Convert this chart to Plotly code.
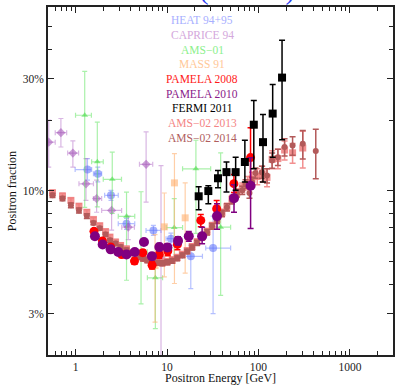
import numpy as np
import plotly.graph_objects as go

# ---------------- data ----------------
# HEAT 94+95
heat_E = [1.35, 1.75, 2.44, 3.61, 7.1, 11.05, 18.2, 31.9]
heat_E_lo = [0.99, 1.57, 2.08, 2.93, 5.9, 9.76, 14.7, 26.5]
heat_E_hi = [1.50, 1.93, 2.93, 4.44, 8.6, 12.5, 24.4, 49.6]
heat_frac = [0.123, 0.118, 0.0956, 0.0724, 0.0678, 0.0625, 0.0526, 0.057]
heat_lo = [0.111, 0.109, 0.091, 0.0685, 0.0646, 0.0586, 0.0383, 0.030]
heat_hi = [0.137, 0.126, 0.1004, 0.0763, 0.0712, 0.066, 0.0586, 0.078]

# CAPRICE 94
caprice_E = [0.509, 0.692, 0.935, 1.30, 1.70, 2.48, 3.77, 5.91, 8.6]
caprice_E_lo = [0.5, 0.60, 0.82, 1.09, 1.57, 1.93, 3.2, 5.0, 8.6]
caprice_E_hi = [0.6, 0.80, 1.08, 1.57, 1.93, 3.19, 4.4, 6.98, 8.6]
caprice_frac = [0.161, 0.1767, 0.1446, 0.107, 0.0926, 0.0825, 0.070, 0.1295, 0.052]
caprice_lo = [0.126, 0.1535, 0.126, 0.091, 0.081, 0.068, 0.062, 0.0895, 0.015]
caprice_hi = [0.200, 0.203, 0.163, 0.137, 0.111, 0.0956, 0.078, 0.178, 0.128]

# AMS-01
ams01_E = [1.26, 1.73, 2.52, 3.61, 5.2, 7.46, 12.0, 20.7, 38.6]
ams01_E_lo = [1.0, 1.5, 2.01, 2.93, 4.44, 6.1, 9.8, 14.8, 30.0]
ams01_E_hi = [1.49, 2.01, 3.18, 4.44, 6.1, 8.95, 14.8, 30.0, 49.6]
ams01_frac = [0.2095, 0.1327, 0.1118, 0.0778, 0.055, 0.0426, 0.0697, 0.124, 0.070]
ams01_lo = [0.085, 0.0853, 0.08, 0.0416, 0.033, 0.0259, 0.0522, 0.0658, 0.0359]
ams01_hi = [0.322, 0.196, 0.146, 0.0987, 0.099, 0.0522, 0.0925, 0.164, 0.145]

# MASS 91
mass_E = [7.4, 9.35, 12.06, 15.8]
mass_frac = [0.048, 0.0702, 0.108, 0.0767]
mass_lo = [0.0276, 0.043, 0.0403, 0.0446]
mass_hi = [0.065, 0.0978, 0.144, 0.108]

# PAMELA 2008
pam08_E = [1.59, 1.97, 2.42, 3.2, 4.41, 5.43, 6.87, 8.24, 10.2, 13.0, 23.4, 34.9, 53.9, 81.9]
pam08_frac = [0.0672, 0.0611, 0.0576, 0.0535, 0.0502, 0.0545, 0.0482, 0.0536, 0.0554,
              0.0591, 0.0748, 0.0839, 0.1072, 0.1384]
pam08_err_lo = [0.0015, 0.0015, 0.0015, 0.0015, 0.0015, 0.0015, 0.0017, 0.002, 0.0025,
                0.003, 0.0045, 0.007, 0.009, 0.033]
pam08_err_hi = [0.0015, 0.0015, 0.0015, 0.0015, 0.0015, 0.0015, 0.0017, 0.002, 0.0025,
                0.003, 0.0045, 0.007, 0.010, 0.047]

# PAMELA 2010
pam10_E = [1.63, 1.98, 2.42, 2.93, 3.61, 4.44, 5.6, 6.84, 8.24, 10.1, 13.2, 17.3, 24.2, 35.2, 54.0, 82.0]
pam10_frac = [0.064, 0.0591, 0.0563, 0.0549, 0.0536, 0.0549, 0.0605, 0.0526, 0.0576,
              0.0574, 0.0612, 0.064, 0.064, 0.078, 0.093, 0.105]
pam10_err_lo = [0.0015, 0.0015, 0.0015, 0.0015, 0.0015, 0.0015, 0.0017, 0.0017, 0.002,
                0.002, 0.0025, 0.003, 0.0045, 0.0095, 0.012, 0.036]
pam10_err_hi = [0.0015, 0.0015, 0.0015, 0.0015, 0.0015, 0.0015, 0.0017, 0.0017, 0.002,
                0.002, 0.0025, 0.003, 0.006, 0.010, 0.013, 0.033]

# FERMI 2011
fermi_E = [22.2, 28.3, 36.1, 44.7, 56.3, 71.0, 88.9, 112, 143, 181]
fermi_frac = [0.0947, 0.0997, 0.113, 0.120, 0.120, 0.1325, 0.191, 0.161, 0.213, 0.303]
fermi_lo = [0.0831, 0.088, 0.103, 0.0988, 0.1004, 0.109, 0.124, 0.109, 0.139, 0.165]
fermi_hi = [0.104, 0.105, 0.122, 0.1325, 0.139, 0.164, 0.242, 0.211, 0.283, 0.437]

# AMS-02 2013
ams13_E = [0.56, 0.72, 0.89, 1.09, 1.33, 1.57, 1.84, 2.13, 2.38, 2.74, 3.11, 3.61, 4.2,
           4.84, 5.48, 6.11, 6.92, 7.85, 8.89, 10.07, 11.4, 12.9, 14.7, 16.6, 18.8, 21.3,
           24.2, 27.4, 31.1, 35.2, 39.9, 45.2, 51.3, 58.1, 66.5, 76, 85, 97, 110, 124,
           141, 163, 193, 236, 305]
ams13_frac = [0.098, 0.095, 0.091, 0.086, 0.081, 0.0755, 0.071, 0.067, 0.0635, 0.0605,
              0.0585, 0.0565, 0.0545, 0.0528, 0.0518, 0.051, 0.0502, 0.0498, 0.0495,
              0.0499, 0.0507, 0.052, 0.0536, 0.0556, 0.0578, 0.0605, 0.0638, 0.067,
              0.071, 0.0755, 0.0805, 0.0855, 0.092, 0.098, 0.103, 0.108, 0.112, 0.115,
              0.118, 0.114, 0.136, 0.137, 0.149, 0.145, 0.152]
ams13_err = [0.0025, 0.0025, 0.0022, 0.002, 0.002, 0.0015, 0.0015, 0.0015, 0.0015, 0.0015,
             0.0015, 0.0015, 0.0015, 0.0015, 0.0015, 0.0015, 0.0015, 0.0015, 0.0015,
             0.0015, 0.0015, 0.0015, 0.0015, 0.0015, 0.0017, 0.0018, 0.002, 0.002,
             0.0022, 0.0025, 0.003, 0.003, 0.0035, 0.004, 0.005, 0.007, 0.008, 0.009,
             0.009, 0.010, 0.012, 0.013, 0.014, 0.014, 0.027]

# AMS-02 2014
ams14_E = [0.56, 0.72, 0.89, 1.09, 1.33, 1.57, 1.84, 2.13, 2.38, 2.74, 3.11, 3.61, 4.2,
           4.84, 5.48, 6.11, 6.92, 7.85, 8.89, 10.07, 11.4, 12.9, 14.7, 16.6, 18.8, 21.3,
           24.2, 27.4, 31.1, 35.2, 39.9, 45.2, 51.3, 58.1, 66.5, 72.2, 79.7, 85, 92.7,
           109, 124, 141, 163, 193, 236, 305, 423]
ams14_frac = [0.0956, 0.0926, 0.0867, 0.0825, 0.078, 0.0729, 0.0692, 0.0652, 0.0615,
              0.0596, 0.0576, 0.0558, 0.0542, 0.0522, 0.0514, 0.0506, 0.0497, 0.0494,
              0.0491, 0.0496, 0.0503, 0.0516, 0.0531, 0.0552, 0.0574, 0.060, 0.0634,
              0.0666, 0.0706, 0.0748, 0.0801, 0.085, 0.091, 0.0975, 0.1004, 0.107,
              0.0978, 0.109, 0.119, 0.120, 0.116, 0.1346, 0.139, 0.1535, 0.1556, 0.1586,
              0.1476]
ams14_err = [0.002, 0.002, 0.002, 0.002, 0.0018, 0.0012, 0.0012, 0.0012, 0.0012, 0.0012,
             0.0012, 0.0012, 0.0012, 0.0012, 0.0012, 0.0012, 0.0012, 0.0012, 0.0012,
             0.0012, 0.0012, 0.0012, 0.0012, 0.0012, 0.0014, 0.0015, 0.0017, 0.0018,
             0.002, 0.0022, 0.0025, 0.003, 0.0032, 0.0035, 0.004, 0.0045, 0.005, 0.005,
             0.006, 0.007, 0.008, 0.010, 0.011, 0.013, 0.014, 0.022, 0.035]

legend_names = ["HEAT 94+95", "CAPRICE 94", "AMS\u221201", "MASS 91", "PAMELA 2008",
                "PAMELA 2010", "FERMI 2011", "AMS\u221202 2013", "AMS\u221202 2014"]
legend_colors = ["#a8b0ff", "#d4a8dc", "#8cf08c", "#ffc898", "#ff1a1a",
                 "#8a1a8a", "#000000", "#f48484", "#b05e5e"]

y_tickvals = [0.03, 0.1, 0.3]
y_ticktext = ["3%", "10%", "30%"]
x_tickvals = [1, 10, 100, 1000]
x_ticktext = ["1", "10", "100", "1000"]

# ---------------- figure ----------------
fig = go.Figure()


def diff(a, b):
    return list(np.asarray(a, float) - np.asarray(b, float))


def add_series(x, y, color, bar_color, symbol, size, yerr_hi, yerr_lo,
               xerr_hi=None, xerr_lo=None, thick=1.2, cap=2.5, line=None):
    err_x = None
    if xerr_hi is not None:
        err_x = dict(type="data", symmetric=False, array=xerr_hi, arrayminus=xerr_lo,
                     color=bar_color, thickness=thick, width=cap)
    fig.add_trace(go.Scatter(
        x=x, y=y, mode="markers",
        marker=dict(symbol=symbol, size=size, color=color,
                    line=line or dict(width=0)),
        error_y=dict(type="data", symmetric=False, array=yerr_hi, arrayminus=yerr_lo,
                     color=bar_color, thickness=thick, width=cap),
        error_x=err_x,
        showlegend=False, hoverinfo="skip", cliponaxis=True,
    ))


# older balloon / shuttle measurements (faint)
add_series(heat_E, heat_frac, "rgba(90,110,250,0.55)", "rgba(120,140,255,0.55)",
           "circle", 8, diff(heat_hi, heat_frac), diff(heat_frac, heat_lo),
           diff(heat_E_hi, heat_E), diff(heat_E, heat_E_lo))
add_series(caprice_E, caprice_frac, "rgba(160,80,180,0.55)", "rgba(180,110,200,0.5)",
           "diamond", 7, diff(caprice_hi, caprice_frac), diff(caprice_frac, caprice_lo),
           diff(caprice_E_hi, caprice_E), diff(caprice_E, caprice_E_lo))
add_series(ams01_E, ams01_frac, "rgba(80,220,80,0.6)", "rgba(100,230,100,0.55)",
           "triangle-up", 6, diff(ams01_hi, ams01_frac), diff(ams01_frac, ams01_lo),
           diff(ams01_E_hi, ams01_E), diff(ams01_E, ams01_E_lo))
add_series(mass_E, mass_frac, "rgba(255,175,110,0.6)", "rgba(255,175,110,0.6)",
           "square", 7, diff(mass_hi, mass_frac), diff(mass_frac, mass_lo))

# AMS-02
add_series(ams13_E, ams13_frac, "rgba(240,125,125,0.85)", "rgba(240,125,125,0.85)",
           "square", 7, ams13_err, ams13_err, thick=1.5, cap=3)
add_series(ams14_E, ams14_frac, "#b35a5a", "#b35a5a",
           "circle", 6, ams14_err, ams14_err, thick=1.5, cap=3)

# PAMELA
add_series(pam08_E, pam08_frac, "#ff0000", "#ff0000", "circle", 9,
           pam08_err_hi, pam08_err_lo, thick=1.5, cap=3)
add_series(pam10_E, pam10_frac, "#800080", "#800080", "circle", 10,
           pam10_err_hi, pam10_err_lo, thick=1.5, cap=3)

# FERMI
add_series(fermi_E, fermi_frac, "#000000", "#000000", "square", 8,
           diff(fermi_hi, fermi_frac), diff(fermi_frac, fermi_lo), thick=1.5, cap=3)

# legend as stacked coloured labels
L, R, T, B = 48, 0, 7, 30
W, H = 395, 385
plot_w, plot_h = W - L - R, H - T - B
legend_x_px = 203
legend_y_px = [20, 35, 50, 64, 79, 94, 108, 123, 138]
for name, col, ypx in zip(legend_names, legend_colors, legend_y_px):
    fig.add_annotation(
        x=(legend_x_px - L) / plot_w, y=(H - B - ypx) / plot_h,
        xref="paper", yref="paper", text=name, showarrow=False,
        font=dict(family="Liberation Serif", size=11.5, color=col),
        xanchor="center", yanchor="middle",
    )

# axis titles
fig.add_annotation(
    x=-36 / plot_w, y=(H - B - 191) / plot_h, xref="paper", yref="paper",
    text="Positron fraction", textangle=-90, showarrow=False,
    font=dict(family="Liberation Serif", size=12, color="#111111"),
    xanchor="center", yanchor="middle",
)
fig.add_annotation(
    x=(221 - L) / plot_w, y=-(378 - (H - B)) / plot_h, xref="paper", yref="paper",
    text="Positron Energy [GeV]", showarrow=False,
    font=dict(family="Liberation Serif", size=12, color="#111111"),
    xanchor="center", yanchor="middle",
)

# plot heading above the frame
fig.add_annotation(
    x=(226 - L) / plot_w, y=1, xref="paper", yref="paper",
    text="e<sup>+</sup> / (e<sup>+</sup> + e<sup>\u2212</sup>)", showarrow=False,
    font=dict(family="Liberation Serif", size=28, color="#2a3cf0"),
    xanchor="center", yanchor="bottom", yshift=0,
)

x_minor = [m * 10 ** d for d in range(-1, 4) for m in range(2, 10)
           if 0.5 <= m * 10 ** d <= 3000 and m * 10 ** d not in x_tickvals]
y_minor = [m * 10 ** d for d in (-2, -1) for m in range(2, 10)
           if 0.02 <= m * 10 ** d <= 0.6 and m * 10 ** d not in y_tickvals]

axis_common = dict(
    type="log", showgrid=False, zeroline=False, showline=True,
    linecolor="#222222", linewidth=1.5, mirror="allticks",
    ticks="inside", ticklen=6, tickwidth=1, tickcolor="#222222",
    tickfont=dict(family="Liberation Serif", size=11.5, color="#222222"),
)
fig.update_xaxes(
    **axis_common,
    range=[np.log10(0.5), np.log10(0.5) + plot_w / 92.0],
    tickmode="array", tickvals=x_tickvals, ticktext=x_ticktext,
    minor=dict(tickmode="array", tickvals=x_minor, ticks="inside", ticklen=4,
               tickcolor="#222222", tickwidth=1),
)
fig.update_yaxes(
    **axis_common,
    range=[np.log10(0.02), np.log10(0.02) + plot_h / 235.0],
    tickmode="array", tickvals=y_tickvals, ticktext=y_ticktext,
    minor=dict(tickmode="array", tickvals=y_minor, ticks="inside", ticklen=4,
               tickcolor="#222222", tickwidth=1),
)

fig.update_layout(
    width=W, height=H,
    margin=dict(l=L, r=R, t=T, b=B, pad=0),
    paper_bgcolor="white", plot_bgcolor="white",
    showlegend=False,
)

fig.write_html("out.html")
